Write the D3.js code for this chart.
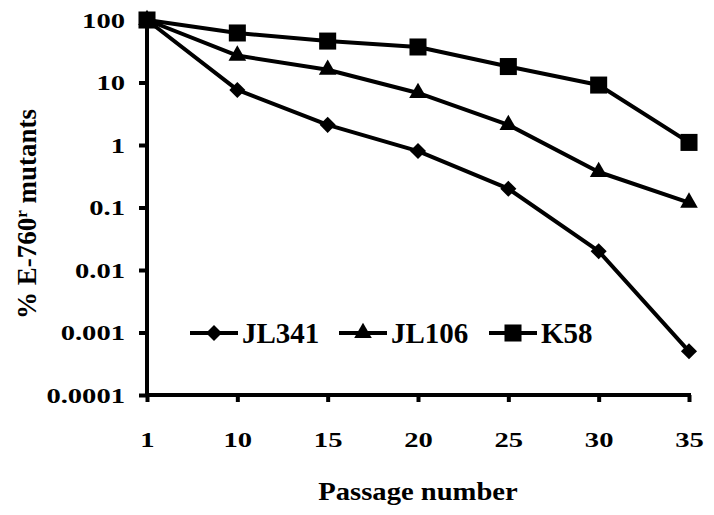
<!DOCTYPE html>
<html>
<head>
<meta charset="utf-8">
<script src="https://cdn.jsdelivr.net/npm/d3@7"></script>
<style>
  body { margin: 0; background: #fff; }
  svg text { font-family: "Liberation Serif", "Times New Roman", serif; font-weight: bold; fill: #000; }
</style>
</head>
<body>
<svg id="chart" width="714" height="515"></svg>
<script>
// passage numbers (categories on x)
const passages = ["1", "10", "15", "20", "25", "30", "35"];
// % E-760r mutants per line
const jl341 = [100, 7.6, 2.1, 0.8, 0.2, 0.02, 0.0005];
const jl106 = [100, 27, 16, 6.8, 2.1, 0.37, 0.12];
const k58 = [100, 62, 46, 37, 18, 9.1, 1.1];
const yTicks = [0.0001, 0.001, 0.01, 0.1, 1, 10, 100];
const yTickLabels = ["0.0001", "0.001", "0.01", "0.1", "1", "10", "100"];

const series = [
  { name: "JL341", values: jl341, symbol: d3.symbolDiamond2, size: 165 },
  { name: "JL106", values: jl106, symbol: d3.symbolTriangle, size: 135 },
  { name: "K58", values: k58, symbol: d3.symbolSquare, size: 290 }
];

const svg = d3.select("#chart");
const x = d3.scalePoint().domain(passages).range([147, 689]);
const y = d3.scaleLog().domain([0.0001, 100]).range([395, 20]);

// axes
const yAxis = svg.append("g").attr("transform", "translate(147,0)")
  .call(d3.axisLeft(y).tickValues(yTicks).tickFormat((d, i) => yTickLabels[i]).tickSize(8));
const xAxis = svg.append("g").attr("transform", "translate(0,395)")
  .call(d3.axisBottom(x).tickSize(7));
[yAxis, xAxis].forEach(a => {
  a.attr("font-family", null).attr("font-size", null);
  a.select(".domain").attr("stroke", "#000").attr("stroke-width", 4);
  a.selectAll(".tick line").attr("stroke", "#000").attr("stroke-width", 4);
  a.selectAll(".tick text").style("font-size", "22px");
});
// tick labels in the original are stretched sideways
yAxis.selectAll(".tick text").attr("x", 0).attr("transform", "translate(-22,0) scale(1.3,1)");
xAxis.selectAll(".tick text").attr("y", 0).attr("transform", "translate(0,36) scale(1.3,1)");
yAxis.select(".domain").attr("d", "M0," + (y(100) - 2) + "V" + (y(0.0001) + 2));
xAxis.select(".domain").attr("d", "M145,0H" + (x("35") + 2));

// lines
const line = d3.line().x((d, i) => x(passages[i])).y(d => y(d));
series.forEach(s => {
  svg.append("path").datum(s.values)
    .attr("d", line)
    .attr("fill", "none")
    .attr("stroke", "#000")
    .attr("stroke-width", 4)
    .attr("stroke-linejoin", "round");
});
series.forEach(s => {
  svg.append("g").selectAll("path").data(s.values).join("path")
    .attr("d", d3.symbol(s.symbol, s.size))
    .attr("transform", (d, i) => `translate(${x(passages[i])},${y(d)})`)
    .attr("fill", "#000");
});

// legend
const legendX = [190, 339, 489];
const legend = svg.append("g").attr("transform", "translate(0,333)");
series.forEach((s, i) => {
  const g = legend.append("g").attr("transform", `translate(${legendX[i]},0)`);
  g.append("line").attr("x1", 0).attr("x2", 48).attr("stroke", "#000").attr("stroke-width", 4);
  g.append("path").attr("d", d3.symbol(s.symbol, s.size)).attr("transform", "translate(24,0)").attr("fill", "#000");
  g.append("text").attr("x", 52).attr("y", 10).style("font-size", "29px").text(s.name);
});

// axis titles
svg.append("text").attr("transform", "translate(418,500) scale(1.1,1)").attr("text-anchor", "middle")
  .style("font-size", "26px").text("Passage number");
const yt = svg.append("text").attr("transform", "translate(36,214) rotate(-90)")
  .attr("text-anchor", "middle").style("font-size", "27px");
yt.append("tspan").text("% E-760");
yt.append("tspan").attr("dy", -9).style("font-size", "17px").text("r");
yt.append("tspan").attr("dy", 9).text(" mutants");
</script>
</body>
</html>
